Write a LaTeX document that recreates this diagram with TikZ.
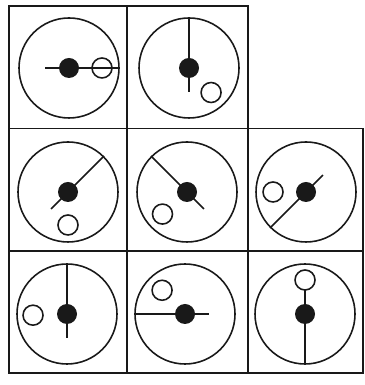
\documentclass[tikz,border=0pt]{standalone}
\usepackage{tikz}
\usetikzlibrary{calc}
\definecolor{ink}{RGB}{25,25,25}
\tikzset{
  grid/.style={draw=ink, line width=0.45pt},
  face/.style={circle, draw=ink, minimum size=1cm, inner sep=0pt, line width=0.45pt},
  hub/.style={circle, fill=ink, minimum size=0.2cm, inner sep=0pt},
  ball/.style={circle, draw=ink, minimum size=0.2cm, inner sep=0pt, line width=0.45pt},
  hand/.style={draw=ink, line width=0.45pt}
}
\begin{document}
\begin{tikzpicture}
  \useasboundingbox (0,0) rectangle (3.65,3.85);
  % Grid of cells
  \draw[grid] (0.09,3.79) -- (2.48,3.79) -- (2.48,2.565) -- (3.63,2.565)
    -- (3.63,0.12) -- (0.09,0.12) -- cycle;
  \draw[grid] (0.09,2.565) -- (2.48,2.565);
  \draw[grid] (0.09,1.34) -- (3.63,1.34);
  \draw[grid] (1.27,3.79) -- (1.27,0.12);
  \draw[grid] (2.48,2.565) -- (2.48,0.12);

  % Dials: index / x / y / hand angle / ball angle / ball distance
  \foreach \i/\x/\y/\hnd/\bang/\bdist in {
      1/0.69/3.17/0/0/0.33,
      2/1.89/3.17/90/-48/0.33,
      3/0.68/1.93/45/-90/0.33,
      4/1.87/1.93/135/222/0.33,
      5/3.06/1.93/225/180/0.33,
      6/0.67/0.71/90/182/0.34,
      7/1.85/0.71/180/134/0.33,
      8/3.05/0.71/270/90/0.34} {
    \node[face] (face\i) at (\x,\y) {};
    \node[hub] (hub\i) at (\x,\y) {};
    \node[ball] (ball\i) at ($(hub\i.center)+(\bang:\bdist)$) {};
    \draw[hand] (face\i.\hnd) -- ($(hub\i.center)!-0.24cm!(face\i.\hnd)$);
  }
\end{tikzpicture}
\end{document}
